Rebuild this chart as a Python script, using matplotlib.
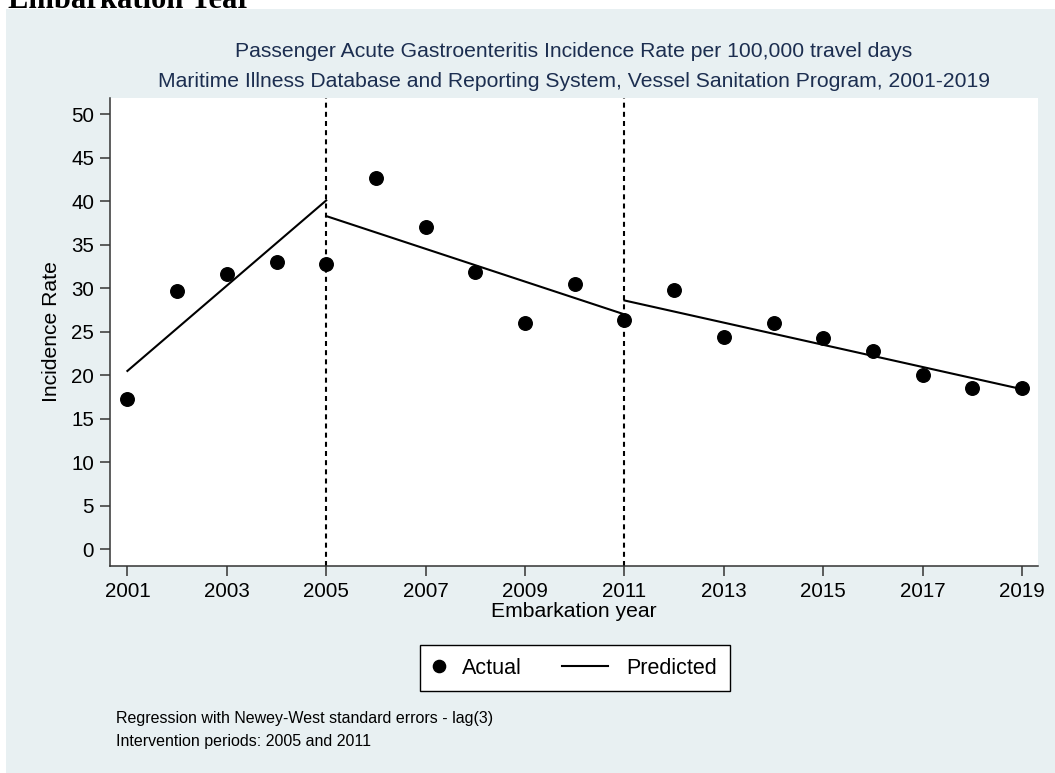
"""Interrupted time series plot: passenger AGE incidence rate, 2001-2019."""

import matplotlib.pyplot as plt
from matplotlib.lines import Line2D
from matplotlib.legend_handler import HandlerLine2D
from matplotlib.patches import Rectangle

plt.rcParams['font.family'] = ['Liberation Sans', 'DejaVu Sans']

years = [2001, 2002, 2003, 2004, 2005, 2006, 2007, 2008, 2009, 2010,
         2011, 2012, 2013, 2014, 2015, 2016, 2017, 2018, 2019]
actual = [17.3, 29.7, 31.6, 33.0, 32.8, 42.7, 37.0, 31.9, 26.0, 30.5,
          26.4, 29.8, 24.4, 26.0, 24.3, 22.8, 20.0, 18.5, 18.5]

# predicted (fitted) segments, one per period: (start year, end year), (start, end value)
seg_years = [(2001, 2005), (2005, 2011), (2011, 2019)]
seg_pred = [(20.5, 40.1), (38.3, 27.0), (28.6, 18.4)]

interventions = [2005, 2011]
xticks = list(range(2001, 2020, 2))
yticks = list(range(0, 55, 5))

BG = '#e8f0f2'
NAVY = '#1c2e50'
W, H = 1055, 773

fig = plt.figure(figsize=(W / 100, H / 100), dpi=100)
fig.patch.set_facecolor('white')
fig.patches.append(Rectangle((6 / W, 0), 1, 1 - 9 / H, transform=fig.transFigure,
                             facecolor=BG, edgecolor='none', zorder=-10))

# cut-off heading from the source document
fig.text(8 / W, 1 - 8 / H, 'Embarkation Year', family='Liberation Serif',
         fontweight='bold', fontsize=22, ha='left', va='baseline')

ax = fig.add_axes([110 / W, 1 - 566 / H, (1038 - 110) / W, (566 - 98) / H])
ax.set_facecolor('white')

ax.scatter(years, actual, s=95, color='black', zorder=3)
for (x0, x1), (y0, y1) in zip(seg_years, seg_pred):
    ax.plot([x0, x1], [y0, y1], color='black', linewidth=1.5, zorder=2)
for yr in interventions:
    ax.axvline(yr, color='black', linewidth=1.5, linestyle=(0, (2.4, 2.0)), zorder=1)

ax.set_xlim(2000.65, 2019.32)
ax.set_ylim(-1.92, 51.87)
ax.set_xticks(xticks)
ax.set_yticks(yticks)
ax.tick_params(labelsize=14.8, length=7.5, width=1.1, color='#333333', pad=4)
for side in ['top', 'right']:
    ax.spines[side].set_visible(False)
for side in ['left', 'bottom']:
    ax.spines[side].set_color('#333333')
    ax.spines[side].set_linewidth(1.1)

ax.set_xlabel('Embarkation year', fontsize=15.2, labelpad=1)
ax.set_ylabel('Incidence Rate', fontsize=15.2, labelpad=7)

fig.text(574 / W, 1 - 57 / H, 'Passenger Acute Gastroenteritis Incidence Rate per 100,000 travel days',
         ha='center', va='baseline', fontsize=15.2, color=NAVY)
fig.text(574 / W, 1 - 87 / H,
         'Maritime Illness Database and Reporting System, Vessel Sanitation Program, 2001-2019',
         ha='center', va='baseline', fontsize=15.2, color=NAVY)

h_actual = Line2D([], [], marker='o', color='black', linestyle='none', markersize=8.8)
h_pred = Line2D([], [], color='black', linewidth=1.5)
leg = fig.legend([h_actual, h_pred], ['Actual', 'Predicted'], loc='center',
                 bbox_to_anchor=(575 / W, 1 - 668 / H), ncol=2, fontsize=15.5,
                 frameon=True, fancybox=False, edgecolor='black', framealpha=1,
                 handlelength=0.5, handletextpad=0.84, columnspacing=3.5, borderpad=0.6,
                 handler_map={h_actual: HandlerLine2D(numpoints=1),
                              h_pred: HandlerLine2D(xpad=-1.64)})
leg.get_frame().set_linewidth(1.0)

fig.text(116 / W, 1 - 723 / H, 'Regression with Newey-West standard errors - lag(3)',
         ha='left', va='baseline', fontsize=11.5)
fig.text(116 / W, 1 - 746 / H, 'Intervention periods: 2005 and 2011',
         ha='left', va='baseline', fontsize=11.5)

fig.savefig('out.png', dpi=100)
